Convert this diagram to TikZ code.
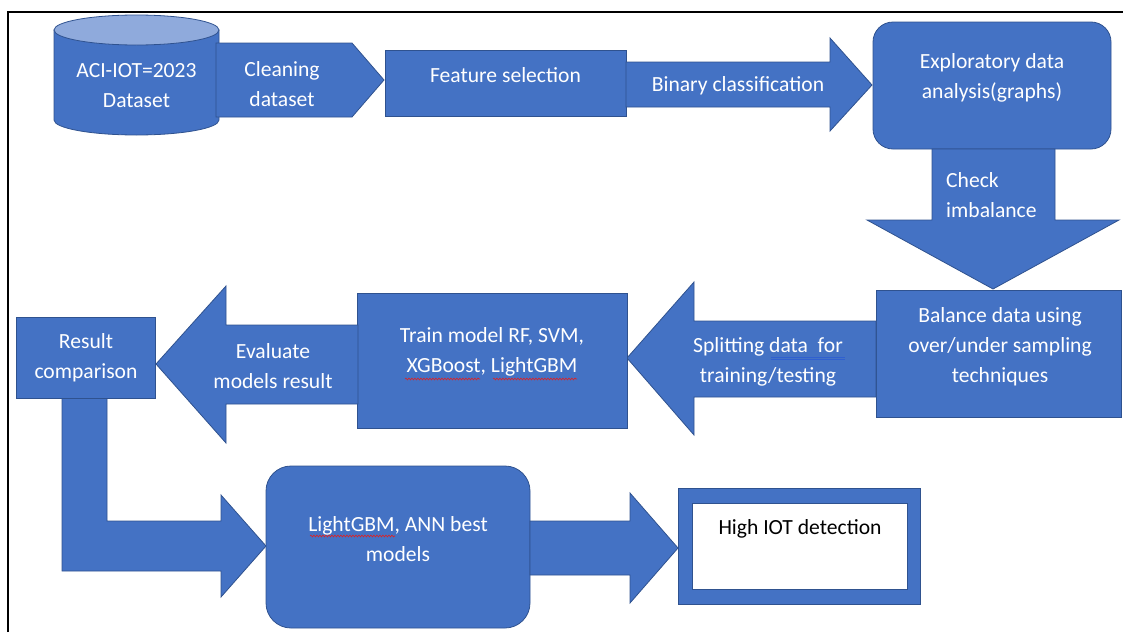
\documentclass[tikz,border=0pt]{standalone}
\usepackage{fontspec}
\setmainfont{Carlito}
\usetikzlibrary{decorations.pathmorphing}
\definecolor{fillb}{HTML}{4472C4}
\definecolor{edgeb}{HTML}{2F528F}
\definecolor{topb}{HTML}{8FAADC}
\definecolor{spellred}{HTML}{E02020}
\definecolor{spellblue}{HTML}{3060D0}
\begin{document}
\begin{tikzpicture}[x=1pt,y=-1pt,
  shp/.style={fill=fillb,draw=edgeb,line width=0.8pt},
  lbl/.style={text=white,font=\fontsize{21.6}{30}\selectfont,align=center,inner sep=0pt},
  wavy/.style={spellred,line width=0.6pt,decorate,decoration={snake,amplitude=0.9pt,segment length=3pt}},
  frameline/.style={line width=1.5pt,draw=black}]
\useasboundingbox (0,0) rectangle (1123,632);
% frame
\draw[frameline] (8,632) -- (8,12) -- (1123,12);
% dataset cylinder
\path[shp] (54,30) -- (54,120) arc[start angle=180,end angle=0,x radius=82.5,y radius=15] -- (219,30) -- cycle;
\path[shp,fill=topb] (136.5,30) ellipse [x radius=82.5,y radius=15];
\node[lbl] (ds) at (136.5,86) {ACI-IOT=2023\\Dataset};
% cleaning pentagon
\path[shp] (216,43) -- (352,43) -- (384,80) -- (352,117) -- (216,117) -- cycle;
\node[lbl] (clean) at (282,84) {Cleaning\\dataset};
% feature selection
\path[shp] (385,50) rectangle (626,116);
\node[lbl] (feat) at (505.5,75) {Feature selection};
% binary classification arrow
\path[shp] (626,62) -- (830,62) -- (830,38) -- (872,85) -- (830,131) -- (830,107) -- (626,107) -- cycle;
\node[lbl] (bin) at (738,86) {Binary classification};
% exploratory
\path[shp,rounded corners=20pt] (873,22) rectangle (1111,149);
\node[lbl] (eda) at (992,78) {Exploratory data\\analysis(graphs)};
% check imbalance down arrow
\path[shp] (932,149) -- (1055,149) -- (1055,220) -- (1119,220) -- (993,289) -- (867,220) -- (932,220) -- cycle;
\node[lbl,anchor=west,align=left] (chk) at (946,195) {Check\\imbalance};
% balance
\path[shp] (876,290) rectangle (1121,417);
\node[lbl] (bal) at (1000,347) {Balance data using\\over/under sampling\\techniques};
% splitting arrow
\path[shp] (876,321) -- (694,321) -- (694,282) -- (627,358) -- (694,435) -- (694,397) -- (876,397) -- cycle;
\node[lbl] (split) at (768,362) {Splitting data\ \ for\\training/testing};
\draw[spellblue,line width=0.5pt] (771,357) -- (845,357) (771,359) -- (845,359);
% train
\path[shp] (357,293) rectangle (627,428);
\node[lbl] (train) at (492,352) {Train model RF, SVM,\\XGBoost, LightGBM};
\draw[wavy] (405,379) -- (480,379);
\draw[wavy] (493,379) -- (577,379);
% evaluate arrow
\path[shp] (358,325) -- (226,325) -- (226,286) -- (156,364) -- (226,443) -- (226,404) -- (358,404) -- cycle;
\node[lbl] (eval) at (273,366) {Evaluate\\models result};
% L arrow
\path[shp] (62,398) -- (107,398) -- (107,521) -- (221,521) -- (221,495) -- (266,546) -- (221,597) -- (221,571) -- (62,571) -- cycle;
% result
\path[shp] (16,317) rectangle (155,398);
\node[lbl] (res) at (86,358) {Result\\comparison};
% best models
\path[shp,rounded corners=25pt] (266,466) rectangle (530,628);
\node[lbl] (best) at (398,539) {LightGBM, ANN best\\models};
\draw[wavy] (310,536) -- (395,536);
% arrow to detection
\path[shp] (530,521) -- (630,521) -- (630,493) -- (678,548) -- (630,603) -- (630,575) -- (530,575) -- cycle;
% high IOT detection
\path[shp] (678,488) rectangle (920,604);
\path[fill=white,draw=edgeb,line width=0.8pt] (692,503) rectangle (907,589);
\node[lbl,text=black] (high) at (800,529) {High IOT detection};
\end{tikzpicture}
\end{document}
